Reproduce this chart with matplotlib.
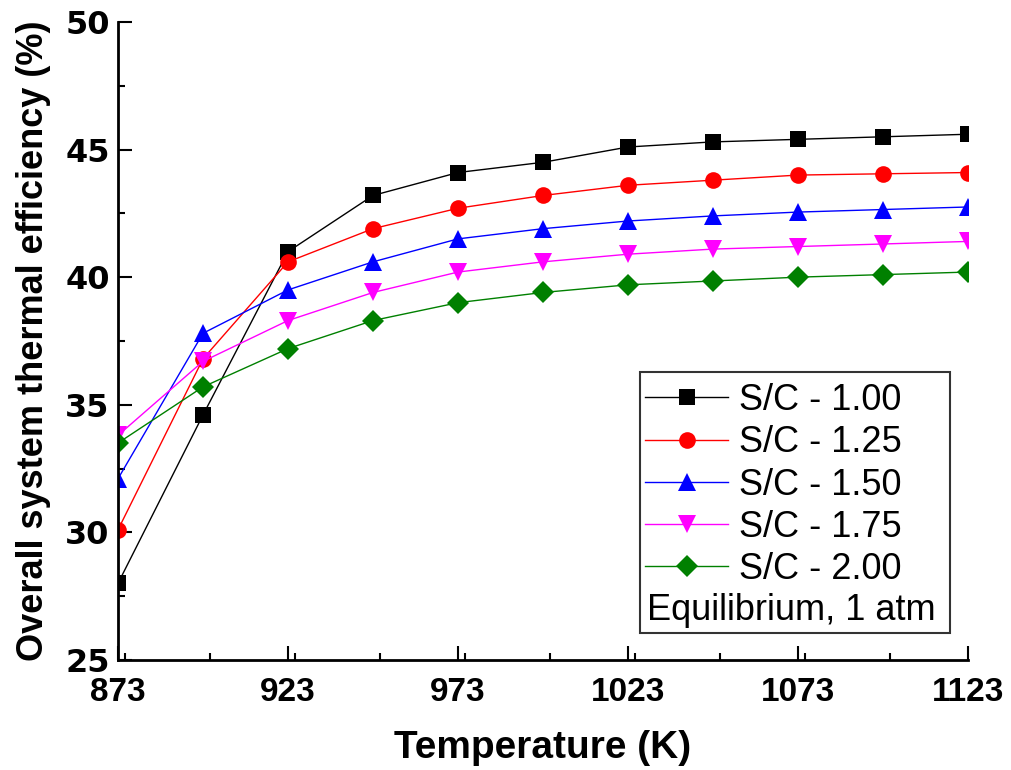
import matplotlib
matplotlib.use("Agg")
import matplotlib.pyplot as plt
from matplotlib.patches import Rectangle
from matplotlib.ticker import MultipleLocator

# temperatures (K) and efficiencies (%)
temps = [873, 898, 923, 948, 973, 998, 1023, 1048, 1073, 1098, 1123]
sc_100 = [28.0, 34.6, 41.0, 43.2, 44.1, 44.5, 45.1, 45.3, 45.4, 45.5, 45.6]
sc_125 = [30.1, 36.8, 40.6, 41.9, 42.7, 43.2, 43.6, 43.8, 44.0, 44.05, 44.1]
sc_150 = [32.1, 37.8, 39.5, 40.6, 41.5, 41.9, 42.2, 42.4, 42.55, 42.65, 42.75]
sc_175 = [33.8, 36.7, 38.3, 39.4, 40.2, 40.6, 40.9, 41.1, 41.2, 41.3, 41.4]
sc_200 = [33.5, 35.7, 37.2, 38.3, 39.0, 39.4, 39.7, 39.85, 40.0, 40.1, 40.2]
labels = ["S/C - 1.00", "S/C - 1.25", "S/C - 1.50", "S/C - 1.75", "S/C - 2.00"]
xticks = [873, 923, 973, 1023, 1073, 1123]

series = [sc_100, sc_125, sc_150, sc_175, sc_200]
colors = ["black", "#ff0000", "#0000ff", "#ff00ff", "#008000"]
markers = ["s", "o", "^", "v", "D"]
msizes = [11, 12, 13, 13, 11]

fig = plt.figure(figsize=(10.11, 7.7), dpi=100)
ax = fig.add_axes([0.1167, 0.1429, 0.8408, 0.8286])

for y, c, m, ms, lab in zip(series, colors, markers, msizes, labels):
    ax.plot(temps, y, color=c, marker=m, markersize=ms, linewidth=1,
            markeredgewidth=0, label=lab)

ax.set_xlim(873, 1123)
ax.set_ylim(25, 50)
ax.set_xticks(xticks)
ax.xaxis.set_minor_locator(MultipleLocator(25))
ax.yaxis.set_major_locator(MultipleLocator(5))
ax.yaxis.set_minor_locator(MultipleLocator(2.5))

for s in ["top", "right"]:
    ax.spines[s].set_visible(False)
for s in ["left", "bottom"]:
    ax.spines[s].set_linewidth(2)

ax.tick_params(which="major", direction="in", length=10, width=1.5)
ax.tick_params(which="minor", direction="in", length=5, width=1.5)
ax.tick_params(axis="x", which="major", pad=12)
ax.tick_params(axis="y", which="major", pad=6)

for t in ax.get_xticklabels():
    t.set_fontfamily("Liberation Sans")
    t.set_fontweight("bold")
    t.set_fontsize(24)
for t in ax.get_yticklabels():
    t.set_fontfamily("DejaVu Sans")
    t.set_fontweight("bold")
    t.set_fontsize(23)

ax.set_xlabel("Temperature (K)", fontsize=28, fontweight="bold",
              family="Liberation Sans", labelpad=16)
ax.set_ylabel("Overall system thermal efficiency (%)", fontsize=26,
              fontweight="bold", family="Liberation Sans", labelpad=10)

# legend box with the extra line of text
ax.add_patch(Rectangle((0.614, 0.042), 0.365, 0.409, transform=ax.transAxes,
                       facecolor="white", edgecolor="#333333", linewidth=1.5,
                       zorder=4, clip_on=False))
leg = ax.legend(loc="upper left", bbox_to_anchor=(0.62, 0.434), frameon=False,
                prop={"family": "Liberation Sans", "size": 26},
                handlelength=2.3, handletextpad=0.3, labelspacing=0.2,
                borderpad=0, borderaxespad=0)
leg.set_zorder(5)
ax.text(0.622, 0.078, "Equilibrium, 1 atm", transform=ax.transAxes,
        fontsize=26, family="Liberation Sans", va="center", ha="left", zorder=6)

fig.savefig("out.png", dpi=100)
